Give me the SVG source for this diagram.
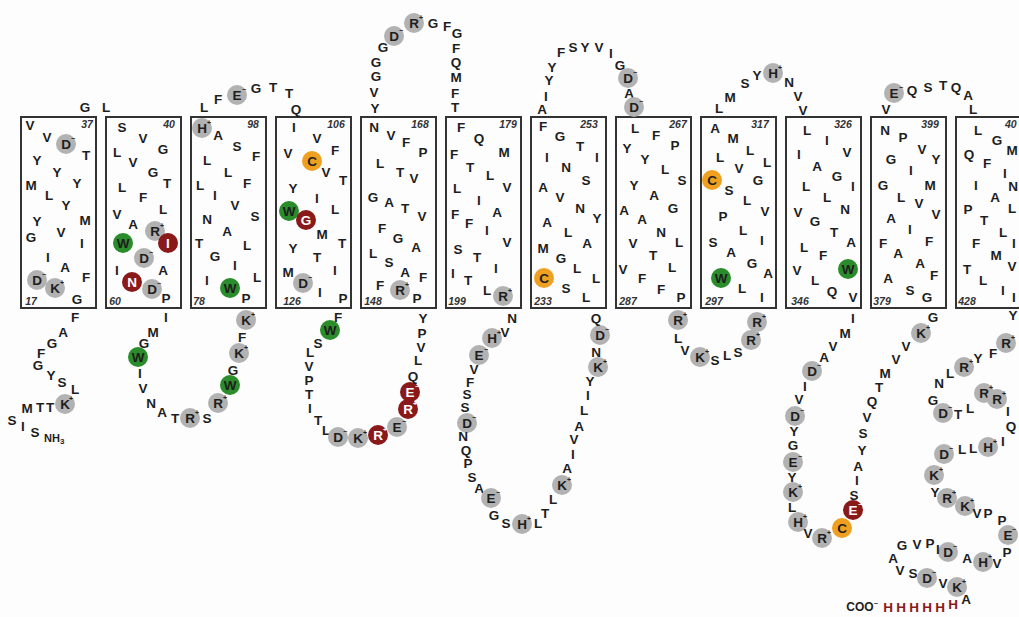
<svg xmlns="http://www.w3.org/2000/svg" width="1019" height="617" viewBox="0 0 1019 617">
<style>
.t{font-family:"Liberation Sans",Arial,sans-serif;font-weight:bold;font-size:13.5px;text-anchor:middle;dominant-baseline:central;fill:#1e1e1e}
.w{fill:#fff}
.c{font-family:"Liberation Sans",Arial,sans-serif;font-weight:bold;font-size:7px;text-anchor:middle;dominant-baseline:central;fill:#222}
.cw{fill:#fff}
.n{font-family:"Liberation Sans",Arial,sans-serif;font-weight:bold;font-style:italic;font-size:10.5px;text-anchor:middle;dominant-baseline:central;fill:#333}
.box{fill:none;stroke:#333;stroke-width:2}
.g{fill:#b2b2b2}.gr{fill:#2b8c2b}.r{fill:#8a1a1a}.o{fill:#f0a020}
.h{fill:#8a1a1a}
</style>
<rect width="1019" height="617" fill="#fdfdfd"/>

<g id="tm1">
<rect class="box" x="21" y="117" width="75" height="191"/>
<text class="n" x="87" y="124">37</text><text class="n" x="31" y="301">17</text>
<text class="t" x="30" y="125">V</text><text class="t" x="47" y="137">V</text>
<circle class="g" cx="66" cy="144" r="10"/><text class="t" x="66" y="144">D</text><text class="c" x="73" y="138">−</text>
<text class="t" x="86" y="155">T</text><text class="t" x="37" y="160">Y</text><text class="t" x="57" y="172">Y</text>
<text class="t" x="31" y="185">M</text><text class="t" x="77" y="183">Y</text><text class="t" x="49" y="195">L</text>
<text class="t" x="66" y="205">Y</text><text class="t" x="37" y="221">Y</text><text class="t" x="85" y="220">M</text>
<text class="t" x="61" y="232">V</text><text class="t" x="31" y="237">G</text><text class="t" x="82" y="243">I</text>
<text class="t" x="48" y="257">I</text><text class="t" x="65" y="267">A</text><text class="t" x="86" y="277">F</text>
<circle class="g" cx="37" cy="280" r="10"/><text class="t" x="37" y="280">D</text><text class="c" x="44" y="274">−</text>
<circle class="g" cx="55" cy="288" r="10"/><text class="t" x="55" y="288">K</text><text class="c" x="62" y="282">+</text>
<text class="t" x="77" y="299">G</text>
</g>

<g id="tm2">
<rect class="box" x="106" y="117" width="75" height="191"/>
<text class="n" x="169" y="124">40</text><text class="n" x="115" y="301">60</text>
<text class="t" x="122" y="127">S</text><text class="t" x="143" y="138">V</text><text class="t" x="163" y="149">G</text>
<text class="t" x="117" y="152">L</text><text class="t" x="133" y="162">V</text><text class="t" x="153" y="172">G</text>
<text class="t" x="167" y="183">T</text><text class="t" x="122" y="187">L</text><text class="t" x="143" y="197">F</text>
<text class="t" x="163" y="209">L</text><text class="t" x="117" y="214">V</text><text class="t" x="133" y="224">A</text>
<circle class="g" cx="155" cy="231" r="10"/><text class="t" x="155" y="231">R</text><text class="c" x="162" y="225">+</text>
<circle class="gr" cx="123" cy="243" r="10"/><text class="t" x="123" y="243">W</text>
<circle class="r" cx="168" cy="243" r="10"/><text class="t w" x="168" y="243">I</text>
<circle class="g" cx="144" cy="258" r="10"/><text class="t" x="144" y="258">D</text><text class="c" x="151" y="252">−</text>
<text class="t" x="117" y="270">I</text><text class="t" x="163" y="270">A</text>
<circle class="r" cx="132" cy="282" r="10"/><text class="t w" x="132" y="282">N</text>
<circle class="g" cx="152" cy="289" r="10"/><text class="t" x="152" y="289">D</text><text class="c" x="159" y="283">−</text>
<text class="t" x="166" y="298">P</text>
</g>

<g id="tm3">
<rect class="box" x="191" y="117" width="75" height="191"/>
<text class="n" x="253" y="124">98</text><text class="n" x="199" y="301">78</text>
<circle class="g" cx="202" cy="128" r="10"/><text class="t" x="202" y="128">H</text><text class="c" x="209" y="122">+</text>
<text class="t" x="218" y="135">A</text><text class="t" x="237" y="146">S</text><text class="t" x="256" y="156">F</text>
<text class="t" x="207" y="160">L</text><text class="t" x="228" y="172">L</text><text class="t" x="247" y="183">F</text>
<text class="t" x="200" y="185">L</text><text class="t" x="215" y="195">I</text><text class="t" x="235" y="205">V</text>
<text class="t" x="207" y="219">N</text><text class="t" x="255" y="216">S</text><text class="t" x="227" y="231">A</text>
<text class="t" x="199" y="243">T</text><text class="t" x="247" y="245">L</text><text class="t" x="215" y="256">G</text>
<text class="t" x="235" y="265">I</text><text class="t" x="257" y="277">L</text><text class="t" x="207" y="280">I</text>
<circle class="gr" cx="230" cy="288" r="10"/><text class="t" x="230" y="288">W</text>
<text class="t" x="246" y="298">P</text>
</g>

<g id="tm4">
<rect class="box" x="276" y="117" width="75" height="191"/>
<text class="n" x="336" y="124">106</text><text class="n" x="292" y="301">126</text>
<text class="t" x="294" y="127">I</text><text class="t" x="317" y="138">V</text><text class="t" x="335" y="150">F</text>
<text class="t" x="288" y="153">V</text>
<circle class="o" cx="312" cy="161" r="10"/><text class="t" x="312" y="161">C</text>
<text class="t" x="326" y="172">V</text><text class="t" x="343" y="180">T</text><text class="t" x="293" y="188">Y</text>
<text class="t" x="317" y="198">I</text><text class="t" x="335" y="209">L</text>
<circle class="gr" cx="289" cy="211" r="10"/><text class="t" x="289" y="211">W</text>
<circle class="r" cx="306" cy="220" r="10"/><text class="t w" x="306" y="220">G</text>
<text class="t" x="322" y="234">M</text><text class="t" x="342" y="243">T</text><text class="t" x="293" y="248">Y</text>
<text class="t" x="317" y="257">T</text><text class="t" x="335" y="270">I</text><text class="t" x="288" y="272">M</text>
<circle class="g" cx="303" cy="283" r="10"/><text class="t" x="303" y="283">D</text><text class="c" x="310" y="277">−</text>
<text class="t" x="320" y="292">I</text><text class="t" x="343" y="298">P</text>
</g>

<g id="tm5">
<rect class="box" x="361" y="117" width="75" height="191"/>
<text class="n" x="420" y="124">168</text><text class="n" x="373" y="301">148</text>
<text class="t" x="374" y="127">N</text><text class="t" x="391" y="135">V</text><text class="t" x="406" y="142">F</text>
<text class="t" x="423" y="152">P</text><text class="t" x="380" y="163">L</text><text class="t" x="400" y="172">T</text>
<text class="t" x="414" y="178">V</text><text class="t" x="373" y="197">G</text><text class="t" x="389" y="202">A</text>
<text class="t" x="405" y="208">T</text><text class="t" x="422" y="216">V</text><text class="t" x="382" y="228">F</text>
<text class="t" x="398" y="238">G</text><text class="t" x="416" y="247">A</text><text class="t" x="373" y="253">L</text>
<text class="t" x="389" y="262">S</text><text class="t" x="405" y="272">A</text><text class="t" x="423" y="277">F</text>
<text class="t" x="380" y="285">F</text>
<circle class="g" cx="400" cy="290" r="10"/><text class="t" x="400" y="290">R</text><text class="c" x="407" y="284">+</text>
<text class="t" x="417" y="298">P</text>
</g>

<g id="tm6">
<rect class="box" x="446" y="117" width="75" height="191"/>
<text class="n" x="508" y="124">179</text><text class="n" x="457" y="301">199</text>
<text class="t" x="461" y="127">F</text><text class="t" x="479" y="138">Q</text><text class="t" x="454" y="154">F</text>
<text class="t" x="504" y="152">M</text><text class="t" x="470" y="167">T</text><text class="t" x="490" y="175">L</text>
<text class="t" x="457" y="188">L</text><text class="t" x="507" y="187">V</text><text class="t" x="479" y="200">I</text>
<text class="t" x="497" y="212">A</text><text class="t" x="455" y="214">F</text><text class="t" x="469" y="223">F</text>
<text class="t" x="487" y="230">I</text><text class="t" x="507" y="242">V</text><text class="t" x="458" y="249">S</text>
<text class="t" x="477" y="257">T</text><text class="t" x="496" y="268">I</text><text class="t" x="453" y="273">I</text>
<text class="t" x="468" y="280">T</text><text class="t" x="487" y="290">L</text>
<circle class="g" cx="503" cy="296" r="10"/><text class="t" x="503" y="296">R</text><text class="c" x="510" y="290">+</text>
</g>

<g id="tm7">
<rect class="box" x="531" y="117" width="75" height="191"/>
<text class="n" x="589" y="124">253</text><text class="n" x="543" y="301">233</text>
<text class="t" x="543" y="126">F</text><text class="t" x="560" y="136">G</text><text class="t" x="580" y="146">T</text>
<text class="t" x="547" y="157">I</text><text class="t" x="597" y="157">I</text><text class="t" x="566" y="167">N</text>
<text class="t" x="586" y="180">S</text><text class="t" x="543" y="187">A</text><text class="t" x="560" y="197">V</text>
<text class="t" x="580" y="208">N</text><text class="t" x="597" y="218">Y</text><text class="t" x="547" y="222">A</text>
<text class="t" x="568" y="232">L</text><text class="t" x="587" y="243">A</text><text class="t" x="543" y="248">M</text>
<text class="t" x="561" y="258">G</text><text class="t" x="577" y="268">L</text>
<circle class="o" cx="544" cy="278" r="10"/><text class="t" x="544" y="278">C</text>
<text class="t" x="596" y="278">L</text><text class="t" x="566" y="288">S</text><text class="t" x="586" y="297">L</text>
</g>

<g id="tm8">
<rect class="box" x="616" y="117" width="75" height="191"/>
<text class="n" x="678" y="124">267</text><text class="n" x="628" y="301">287</text>
<text class="t" x="635" y="128">L</text><text class="t" x="656" y="135">F</text><text class="t" x="675" y="145">P</text>
<text class="t" x="627" y="148">Y</text><text class="t" x="645" y="159">Y</text><text class="t" x="665" y="169">L</text>
<text class="t" x="682" y="180">S</text><text class="t" x="634" y="185">Y</text><text class="t" x="654" y="195">A</text>
<text class="t" x="673" y="208">G</text><text class="t" x="624" y="210">A</text><text class="t" x="642" y="219">A</text>
<text class="t" x="661" y="232">N</text><text class="t" x="679" y="242">L</text><text class="t" x="633" y="243">V</text>
<text class="t" x="653" y="255">T</text><text class="t" x="672" y="267">L</text><text class="t" x="623" y="269">V</text>
<text class="t" x="642" y="278">F</text><text class="t" x="661" y="289">F</text><text class="t" x="681" y="297">P</text>
</g>

<g id="tm9">
<rect class="box" x="701" y="117" width="75" height="191"/>
<text class="n" x="760" y="124">317</text><text class="n" x="714" y="301">297</text>
<text class="t" x="715" y="128">A</text><text class="t" x="733" y="138">M</text><text class="t" x="750" y="150">L</text>
<text class="t" x="720" y="157">L</text><text class="t" x="767" y="162">L</text><text class="t" x="739" y="168">V</text>
<circle class="o" cx="712" cy="180" r="10"/><text class="t" x="712" y="180">C</text>
<text class="t" x="758" y="180">G</text><text class="t" x="729" y="190">S</text><text class="t" x="747" y="200">L</text>
<text class="t" x="765" y="211">V</text><text class="t" x="723" y="216">P</text><text class="t" x="743" y="230">L</text>
<text class="t" x="762" y="240">I</text><text class="t" x="713" y="242">S</text><text class="t" x="731" y="252">A</text>
<text class="t" x="752" y="263">G</text><text class="t" x="768" y="273">A</text>
<circle class="gr" cx="721" cy="278" r="10"/><text class="t" x="721" y="278">W</text>
<text class="t" x="742" y="288">L</text><text class="t" x="762" y="297">I</text>
</g>

<g id="tm10">
<rect class="box" x="786" y="117" width="75" height="191"/>
<text class="n" x="843" y="124">326</text><text class="n" x="800" y="301">346</text>
<text class="t" x="807" y="130">L</text><text class="t" x="827" y="140">I</text><text class="t" x="847" y="152">V</text>
<text class="t" x="799" y="154">I</text><text class="t" x="817" y="166">A</text><text class="t" x="837" y="176">G</text>
<text class="t" x="806" y="186">L</text><text class="t" x="853" y="186">I</text><text class="t" x="827" y="197">L</text>
<text class="t" x="845" y="209">N</text><text class="t" x="798" y="212">V</text><text class="t" x="815" y="221">G</text>
<text class="t" x="834" y="232">T</text><text class="t" x="851" y="242">A</text><text class="t" x="804" y="247">L</text>
<text class="t" x="823" y="255">F</text><text class="t" x="797" y="270">V</text>
<circle class="gr" cx="848" cy="269" r="10"/><text class="t" x="848" y="269">W</text>
<text class="t" x="815" y="280">L</text><text class="t" x="832" y="291">Q</text><text class="t" x="853" y="297">V</text>
</g>

<g id="tm11">
<rect class="box" x="871" y="117" width="75" height="191"/>
<text class="n" x="930" y="124">399</text><text class="n" x="882" y="301">379</text>
<text class="t" x="885" y="130">N</text><text class="t" x="903" y="137">P</text><text class="t" x="922" y="149">V</text>
<text class="t" x="891" y="159">G</text><text class="t" x="936" y="159">Y</text><text class="t" x="911" y="170">I</text>
<text class="t" x="883" y="185">G</text><text class="t" x="930" y="185">M</text><text class="t" x="901" y="197">L</text>
<text class="t" x="919" y="203">V</text><text class="t" x="936" y="214">V</text><text class="t" x="891" y="218">A</text>
<text class="t" x="910" y="229">I</text><text class="t" x="929" y="241">F</text><text class="t" x="883" y="243">F</text>
<text class="t" x="898" y="253">A</text><text class="t" x="920" y="263">A</text><text class="t" x="934" y="275">F</text>
<text class="t" x="888" y="278">A</text><text class="t" x="910" y="290">S</text><text class="t" x="927" y="297">G</text>
</g>

<g id="tm12">
<rect class="box" x="956" y="117" width="75" height="191"/>
<text class="n" x="1005" y="124" style="text-anchor:start">40</text><text class="n" x="967" y="301">428</text>
<text class="t" x="978" y="130">L</text><text class="t" x="997" y="140">G</text><text class="t" x="1012" y="150">M</text>
<text class="t" x="969" y="154">Q</text><text class="t" x="987" y="163">F</text><text class="t" x="1005" y="173">I</text>
<text class="t" x="976" y="185">I</text><text class="t" x="1013" y="186">N</text><text class="t" x="995" y="197">A</text>
<text class="t" x="1012" y="208">L</text><text class="t" x="968" y="209">P</text><text class="t" x="984" y="220">T</text>
<text class="t" x="1003" y="232">L</text><text class="t" x="976" y="243">F</text><text class="t" x="1014" y="243">I</text>
<text class="t" x="996" y="255">M</text><text class="t" x="1012" y="266">V</text><text class="t" x="967" y="269">T</text>
<text class="t" x="983" y="280">L</text><text class="t" x="1003" y="290">I</text><text class="t" x="1014" y="297">I</text>
</g>

<g id="loop-e1">
<text class="t" x="85" y="107">G</text><text class="t" x="106" y="107">L</text>
</g>

<g id="loop-e2">
<text class="t" x="204" y="107">L</text><text class="t" x="218" y="99">F</text>
<circle class="g" cx="237" cy="95" r="10"/><text class="t" x="237" y="95">E</text><text class="c" x="244" y="89">−</text>
<text class="t" x="256" y="88">G</text><text class="t" x="273" y="87">T</text><text class="t" x="289" y="93">T</text><text class="t" x="296" y="109">Q</text>
</g>

<g id="loop-e3">
<text class="t" x="375" y="108">Y</text><text class="t" x="374" y="92">V</text><text class="t" x="376" y="76">G</text>
<text class="t" x="376" y="62">G</text><text class="t" x="383" y="47">G</text>
<circle class="g" cx="394" cy="36" r="10"/><text class="t" x="394" y="36">D</text><text class="c" x="401" y="30">−</text>
<circle class="g" cx="414" cy="23" r="10"/><text class="t" x="414" y="23">R</text><text class="c" x="421" y="17">+</text>
<text class="t" x="433" y="23">G</text><text class="t" x="447" y="26">F</text><text class="t" x="457" y="33">G</text>
<text class="t" x="456" y="48">F</text><text class="t" x="456" y="62">Q</text><text class="t" x="456" y="77">M</text>
<text class="t" x="455" y="93">F</text><text class="t" x="455" y="107">T</text>
</g>

<g id="loop-e4">
<text class="t" x="542" y="109">A</text><text class="t" x="546" y="96">I</text><text class="t" x="549" y="80">Y</text>
<text class="t" x="552" y="67">Y</text><text class="t" x="561" y="52">F</text><text class="t" x="573" y="47">S</text>
<text class="t" x="585" y="47">Y</text><text class="t" x="599" y="47">V</text><text class="t" x="611" y="53">I</text>
<text class="t" x="620" y="65">G</text>
<circle class="g" cx="628" cy="78" r="10"/><text class="t" x="628" y="78">D</text><text class="c" x="635" y="72">−</text>
<text class="t" x="629" y="93">A</text>
<circle class="g" cx="634" cy="107" r="10"/><text class="t" x="634" y="107">D</text><text class="c" x="641" y="101">−</text>
</g>

<g id="loop-e5">
<text class="t" x="719" y="108">L</text><text class="t" x="730" y="97">M</text><text class="t" x="745" y="83">S</text>
<text class="t" x="757" y="75">Y</text>
<circle class="g" cx="773" cy="73" r="10"/><text class="t" x="773" y="73">H</text><text class="c" x="780" y="67">+</text>
<text class="t" x="789" y="82">N</text><text class="t" x="798" y="96">V</text><text class="t" x="803" y="110">V</text>
</g>

<g id="loop-e6">
<text class="t" x="886" y="109">V</text>
<circle class="g" cx="894" cy="93" r="10"/><text class="t" x="894" y="93">E</text><text class="c" x="901" y="87">−</text>
<text class="t" x="912" y="90">Q</text><text class="t" x="928" y="87">S</text><text class="t" x="943" y="85">T</text>
<text class="t" x="956" y="87">Q</text><text class="t" x="968" y="95">A</text><text class="t" x="973" y="109">L</text>
</g>

<g id="n-term">
<text class="t" x="75" y="317">F</text><text class="t" x="63" y="332">A</text><text class="t" x="52" y="343">G</text>
<text class="t" x="41" y="353">F</text><text class="t" x="38" y="365">G</text><text class="t" x="51" y="375">Y</text>
<text class="t" x="62" y="382">S</text><text class="t" x="75" y="389">L</text>
<circle class="g" cx="65" cy="404" r="10"/><text class="t" x="65" y="404">K</text><text class="c" x="71" y="398">+</text>
<text class="t" x="50" y="407">T</text><text class="t" x="40" y="407">T</text><text class="t" x="27" y="408">M</text>
<text class="t" x="12" y="420">S</text><text class="t" x="23" y="426">I</text><text class="t" x="35" y="432">S</text>
<text class="t" x="44" y="438" style="text-anchor:start;font-size:11px">NH<tspan font-size="8" dy="3">3</tspan></text>
</g>

<g id="loop-c1">
<text class="t" x="166" y="317">I</text><text class="t" x="153" y="332">M</text><text class="t" x="144" y="343">G</text>
<circle class="gr" cx="138" cy="357" r="10"/><text class="t" x="138" y="357">W</text>
<text class="t" x="140" y="373">I</text><text class="t" x="143" y="388">V</text><text class="t" x="151" y="403">N</text>
<text class="t" x="162" y="412">A</text><text class="t" x="175" y="418">T</text>
<circle class="g" cx="190" cy="418" r="10"/><text class="t" x="190" y="418">R</text><text class="c" x="197" y="412">+</text>
<text class="t" x="207" y="418">S</text>
<circle class="g" cx="218" cy="403" r="10"/><text class="t" x="218" y="403">R</text><text class="c" x="225" y="397">+</text>
<circle class="gr" cx="230" cy="385" r="10"/><text class="t" x="230" y="385">W</text>
<text class="t" x="233" y="370">G</text>
<circle class="g" cx="239" cy="353" r="10"/><text class="t" x="239" y="353">K</text><text class="c" x="246" y="347">+</text>
<text class="t" x="242" y="337">F</text>
<circle class="g" cx="246" cy="320" r="10"/><text class="t" x="246" y="320">K</text><text class="c" x="253" y="314">+</text>
</g>

<g id="loop-c2">
<text class="t" x="338" y="317">F</text>
<circle class="gr" cx="330" cy="330" r="10"/><text class="t" x="330" y="330">W</text>
<text class="t" x="318" y="343">S</text><text class="t" x="310" y="352">L</text><text class="t" x="309" y="366">V</text>
<text class="t" x="309" y="380">P</text><text class="t" x="309" y="394">T</text><text class="t" x="310" y="408">I</text>
<text class="t" x="318" y="420">T</text><text class="t" x="326" y="430">L</text>
<circle class="g" cx="338" cy="437" r="10"/><text class="t" x="338" y="437">D</text><text class="c" x="345" y="431">−</text>
<circle class="g" cx="358" cy="438" r="10"/><text class="t" x="358" y="438">K</text><text class="c" x="365" y="432">+</text>
<circle class="r" cx="378" cy="435" r="10"/><text class="t w" x="378" y="435">R</text><text class="c cw" x="385" y="429">+</text>
<circle class="g" cx="397" cy="427" r="10"/><text class="t" x="397" y="427">E</text><text class="c" x="404" y="421">−</text>
<circle class="r" cx="408" cy="409" r="10"/><text class="t w" x="408" y="409">R</text><text class="c cw" x="415" y="403">+</text>
<circle class="r" cx="410" cy="392" r="10"/><text class="t w" x="410" y="392">E</text><text class="c cw" x="417" y="386">−</text>
<text class="t" x="413" y="376">Q</text><text class="t" x="418" y="360">L</text><text class="t" x="421" y="347">V</text>
<text class="t" x="422" y="333">P</text><text class="t" x="423" y="318">Y</text>
</g>

<g id="loop-c3">
<text class="t" x="512" y="318">N</text><text class="t" x="505" y="332">V</text>
<circle class="g" cx="492" cy="338" r="10"/><text class="t" x="492" y="338">H</text><text class="c" x="499" y="332">+</text>
<circle class="g" cx="479" cy="355" r="10"/><text class="t" x="479" y="355">E</text><text class="c" x="486" y="349">−</text>
<text class="t" x="474" y="369">V</text><text class="t" x="470" y="382">F</text><text class="t" x="467" y="394">S</text>
<text class="t" x="465" y="407">S</text>
<circle class="g" cx="467" cy="423" r="10"/><text class="t" x="467" y="423">D</text><text class="c" x="474" y="417">−</text>
<text class="t" x="463" y="436">N</text><text class="t" x="466" y="450">Q</text><text class="t" x="468" y="463">P</text>
<text class="t" x="472" y="477">S</text><text class="t" x="479" y="488">A</text>
<circle class="g" cx="491" cy="498" r="10"/><text class="t" x="491" y="498">E</text><text class="c" x="498" y="492">−</text>
<text class="t" x="494" y="515">G</text><text class="t" x="506" y="523">S</text>
<circle class="g" cx="522" cy="524" r="10"/><text class="t" x="522" y="524">H</text><text class="c" x="529" y="518">+</text>
<text class="t" x="538" y="523">L</text><text class="t" x="545" y="513">T</text><text class="t" x="553" y="499">L</text>
<circle class="g" cx="562" cy="485" r="10"/><text class="t" x="562" y="485">K</text><text class="c" x="569" y="479">+</text>
<text class="t" x="567" y="468">A</text><text class="t" x="573" y="454">I</text><text class="t" x="574" y="439">V</text>
<text class="t" x="579" y="426">A</text><text class="t" x="584" y="410">L</text><text class="t" x="588" y="395">I</text>
<text class="t" x="590" y="381">Y</text>
<circle class="g" cx="598" cy="367" r="10"/><text class="t" x="598" y="367">K</text><text class="c" x="605" y="361">+</text>
<text class="t" x="596" y="352">N</text>
<circle class="g" cx="600" cy="335" r="10"/><text class="t" x="600" y="335">D</text><text class="c" x="607" y="329">−</text>
<text class="t" x="596" y="318">Q</text>
</g>

<g id="loop-c4">
<circle class="g" cx="678" cy="320" r="10"/><text class="t" x="678" y="320">R</text><text class="c" x="685" y="314">+</text>
<text class="t" x="678" y="338">L</text><text class="t" x="685" y="350">V</text>
<circle class="g" cx="700" cy="357" r="10"/><text class="t" x="700" y="357">K</text><text class="c" x="707" y="351">+</text>
<text class="t" x="715" y="360">S</text><text class="t" x="727" y="355">L</text><text class="t" x="738" y="352">S</text>
<circle class="g" cx="751" cy="340" r="10"/><text class="t" x="751" y="340">R</text><text class="c" x="758" y="334">+</text>
<circle class="g" cx="757" cy="322" r="10"/><text class="t" x="757" y="322">R</text><text class="c" x="764" y="316">+</text>
</g>

<g id="loop-c5">
<text class="t" x="853" y="318">I</text><text class="t" x="845" y="333">M</text><text class="t" x="833" y="346">V</text>
<text class="t" x="824" y="357">A</text>
<circle class="g" cx="812" cy="371" r="10"/><text class="t" x="812" y="371">D</text><text class="c" x="819" y="365">−</text>
<text class="t" x="805" y="386">I</text><text class="t" x="799" y="399">V</text>
<circle class="g" cx="795" cy="416" r="10"/><text class="t" x="795" y="416">D</text><text class="c" x="802" y="410">−</text>
<text class="t" x="794" y="431">Y</text><text class="t" x="793" y="445">G</text>
<circle class="g" cx="793" cy="462" r="10"/><text class="t" x="793" y="462">E</text><text class="c" x="800" y="456">−</text>
<text class="t" x="792" y="477">Y</text>
<circle class="g" cx="793" cy="492" r="10"/><text class="t" x="793" y="492">K</text><text class="c" x="800" y="486">+</text>
<text class="t" x="792" y="507">L</text>
<circle class="g" cx="798" cy="522" r="10"/><text class="t" x="798" y="522">H</text><text class="c" x="805" y="516">+</text>
<text class="t" x="808" y="533">V</text>
<circle class="g" cx="822" cy="538" r="10"/><text class="t" x="822" y="538">R</text><text class="c" x="829" y="532">+</text>
<circle class="o" cx="842" cy="528" r="10"/><text class="t" x="842" y="528">C</text>
<circle class="r" cx="853" cy="510" r="10"/><text class="t w" x="853" y="510">E</text><text class="c cw" x="860" y="504">−</text>
<text class="t" x="854" y="495">S</text><text class="t" x="857" y="480">I</text><text class="t" x="858" y="466">A</text>
<text class="t" x="862" y="450">Y</text><text class="t" x="863" y="433">S</text><text class="t" x="867" y="417">V</text>
<text class="t" x="872" y="401">Q</text><text class="t" x="879" y="387">T</text><text class="t" x="885" y="373">M</text>
<text class="t" x="896" y="359">V</text><text class="t" x="906" y="346">V</text>
<circle class="g" cx="921" cy="333" r="10"/><text class="t" x="921" y="333">K</text><text class="c" x="928" y="327">+</text>
<text class="t" x="933" y="317">G</text>
</g>

<g id="c-term">
<text class="t" x="1013" y="315">Y</text>
<circle class="g" cx="1006" cy="343" r="10"/><text class="t" x="1006" y="343">R</text><text class="c" x="1013" y="337">+</text>
<text class="t" x="993" y="353">F</text><text class="t" x="978" y="358">Y</text>
<circle class="g" cx="964" cy="367" r="10"/><text class="t" x="964" y="367">R</text><text class="c" x="971" y="361">+</text>
<text class="t" x="950" y="373">L</text><text class="t" x="939" y="383">N</text><text class="t" x="933" y="400">G</text>
<circle class="g" cx="943" cy="413" r="10"/><text class="t" x="943" y="413">D</text><text class="c" x="950" y="407">−</text>
<text class="t" x="958" y="414">T</text><text class="t" x="970" y="408">L</text>
<circle class="g" cx="984" cy="393" r="10"/><text class="t" x="984" y="393">R</text><text class="c" x="991" y="387">+</text>
<circle class="g" cx="997" cy="399" r="10"/><text class="t" x="997" y="399">R</text><text class="c" x="1004" y="393">+</text>
<text class="t" x="1008" y="411">I</text><text class="t" x="1011" y="426">Q</text><text class="t" x="1003" y="441">I</text>
<circle class="g" cx="988" cy="447" r="10"/><text class="t" x="988" y="447">H</text><text class="c" x="995" y="441">+</text>
<text class="t" x="973" y="448">L</text><text class="t" x="962" y="449">L</text>
<circle class="g" cx="944" cy="454" r="10"/><text class="t" x="944" y="454">D</text><text class="c" x="951" y="448">−</text>
<circle class="g" cx="934" cy="475" r="10"/><text class="t" x="934" y="475">K</text><text class="c" x="941" y="469">+</text>
<text class="t" x="935" y="492">Y</text>
<circle class="g" cx="947" cy="498" r="10"/><text class="t" x="947" y="498">R</text><text class="c" x="954" y="492">+</text>
<circle class="g" cx="965" cy="506" r="10"/><text class="t" x="965" y="506">K</text><text class="c" x="972" y="500">+</text>
<text class="t" x="977" y="513">V</text><text class="t" x="988" y="513">P</text><text class="t" x="1002" y="520">P</text>
<circle class="g" cx="1008" cy="535" r="10"/><text class="t" x="1008" y="535">E</text><text class="c" x="1014" y="529">−</text>
<text class="t" x="1007" y="552">P</text><text class="t" x="997" y="563">V</text>
<circle class="g" cx="983" cy="562" r="10"/><text class="t" x="983" y="562">H</text><text class="c" x="990" y="556">+</text>
<text class="t" x="967" y="558">A</text>
<circle class="g" cx="948" cy="552" r="10"/><text class="t" x="948" y="552">D</text><text class="c" x="955" y="546">−</text>
<text class="t" x="938" y="549">I</text><text class="t" x="930" y="543">P</text><text class="t" x="917" y="544">V</text>
<text class="t" x="902" y="545">G</text><text class="t" x="893" y="558">A</text><text class="t" x="900" y="570">V</text>
<text class="t" x="913" y="573">S</text>
<circle class="g" cx="927" cy="578" r="10"/><text class="t" x="927" y="578">D</text><text class="c" x="934" y="572">−</text>
<text class="t" x="943" y="583">V</text>
<circle class="g" cx="957" cy="587" r="10"/><text class="t" x="957" y="587">K</text><text class="c" x="964" y="581">+</text>
<text class="t" x="966" y="599">A</text>
<text class="t h" x="953" y="604">H</text><text class="t h" x="940" y="607">H</text><text class="t h" x="927" y="607">H</text>
<text class="t h" x="914" y="607">H</text><text class="t h" x="901" y="607">H</text><text class="t h" x="888" y="607">H</text>
<text class="t" x="862" y="607" style="font-size:12px">COO<tspan font-size="7" dy="-4">−</tspan></text>
</g>

<g id="connectors"></g>
</svg>
